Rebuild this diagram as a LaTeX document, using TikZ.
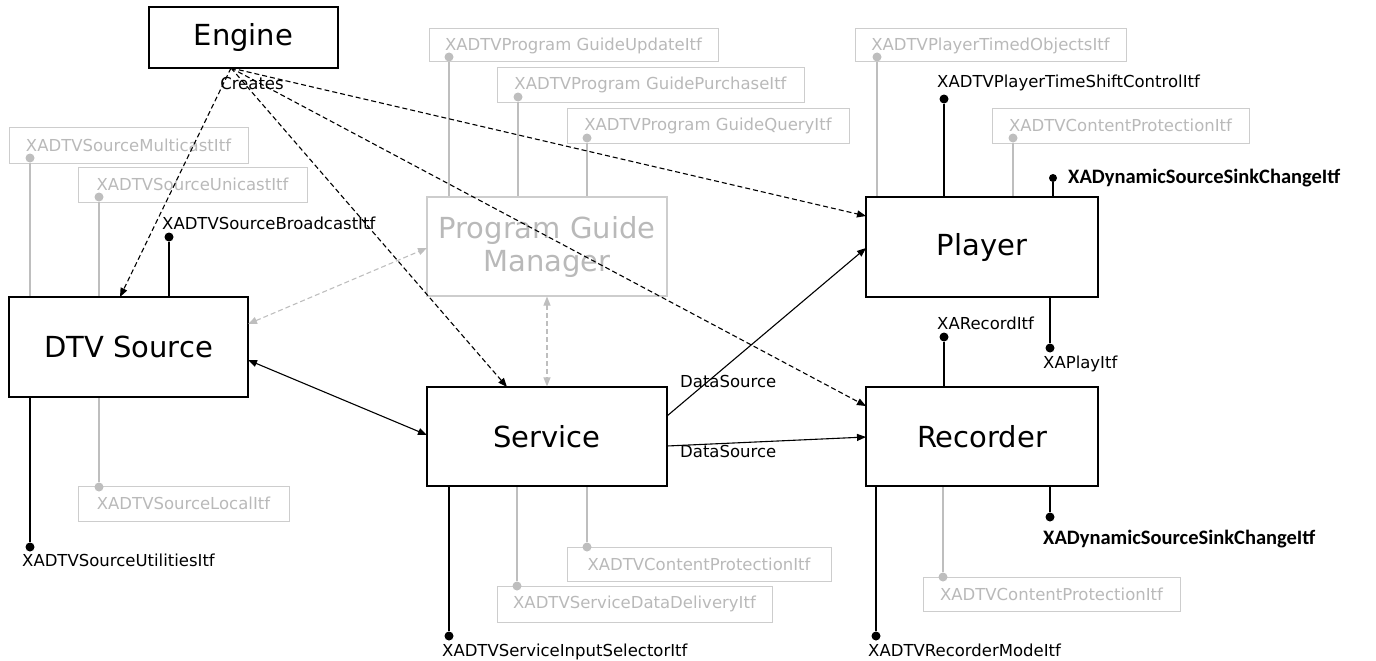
\documentclass[tikz,border=0pt]{standalone}
\usepackage{fontspec}
\setmainfont{DejaVu Sans}
\newfontfamily\calibri{Carlito}
\usetikzlibrary{arrows.meta,calc}
\definecolor{gtxt}{RGB}{185,185,185}
\definecolor{gline}{RGB}{190,190,190}
\definecolor{gbox}{RGB}{205,205,205}
\begin{document}
\begin{tikzpicture}[x=1pt,y=-1pt,
  mainbox/.style={draw=black, line width=1.2pt, inner sep=0pt, align=center, font=\fontsize{29}{33}\selectfont},
  graybox/.style={draw=gbox, line width=1.1pt, inner sep=0pt, align=center, text=gtxt, font=\fontsize{29}{33}\selectfont},
  ibox/.style={draw=gbox, line width=1pt, inner sep=0pt, text=gtxt, font=\fontsize{16.5}{18}\selectfont},
  lbl/.style={inner sep=0pt, anchor=base west, font=\fontsize{16.5}{18}\selectfont},
  blbl/.style={inner sep=0pt, anchor=base west, font=\calibri\bfseries\fontsize{20.5}{22}\selectfont},
  bdot/.style={circle, fill=black, inner sep=0pt, minimum size=9pt},
  gdot/.style={circle, fill=gline, inner sep=0pt, minimum size=9pt},
  bl/.style={draw=black, line width=1.1pt},
  gl/.style={draw=gline, line width=1.1pt},
  tip/.style={-{Triangle[length=9pt,width=7pt]}},
  dtip/.style={{Triangle[length=9pt,width=7pt]}-{Triangle[length=9pt,width=7pt]}},
  dsh/.style={dash pattern=on 5pt off 3pt, line width=1.1pt},
]
\useasboundingbox (0,0) rectangle (1376,661);

% main boxes
\node[mainbox, minimum width=189pt, minimum height=61pt] (eng) at (243.5,37.5) {Engine};
\node[mainbox, minimum width=239pt, minimum height=100pt] (dtv) at (128.5,347) {DTV Source};
\node[graybox, minimum width=240pt, minimum height=99pt] (pgm) at (547,246.5) {Program Guide\\Manager};
\node[mainbox, minimum width=240pt, minimum height=99pt] (svc) at (547,436.5) {Service};
\node[mainbox, minimum width=232pt, minimum height=100pt] (ply) at (982,247) {Player};
\node[mainbox, minimum width=232pt, minimum height=99pt] (rec) at (982,436.5) {Recorder};

% gray interface boxes
\node[ibox, minimum width=239pt, minimum height=36pt] (smc) at (128.5,145) {XADTVSourceMulticastItf};
\node[ibox, minimum width=229pt, minimum height=35pt] (suc) at (192.5,184.5) {XADTVSourceUnicastItf};
\node[ibox, minimum width=211pt, minimum height=35pt] (sloc) at (183.5,503.5) {XADTVSourceLocalItf};
\node[ibox, minimum width=289pt, minimum height=33pt] (pgu) at (573.5,45.5) {XADTVProgram GuideUpdateItf};
\node[ibox, minimum width=307pt, minimum height=34pt] (pgp) at (650.5,85) {XADTVProgram GuidePurchaseItf};
\node[ibox, minimum width=282pt, minimum height=35pt] (pgq) at (708,125.5) {XADTVProgram GuideQueryItf};
\node[ibox, minimum width=271pt, minimum height=33pt] (pto) at (990.5,45.5) {XADTVPlayerTimedObjectsItf};
\node[ibox, minimum width=257pt, minimum height=35pt] (pcp) at (1120.5,125.5) {XADTVContentProtectionItf};
\node[ibox, minimum width=264pt, minimum height=34pt] (scp) at (699,564) {XADTVContentProtectionItf};
\node[ibox, minimum width=275pt, minimum height=36pt] (sdd) at (634.5,604) {XADTVServiceDataDeliveryItf};
\node[ibox, minimum width=257pt, minimum height=34pt] (rcp) at (1051.5,594) {XADTVContentProtectionItf};

% gray lollipops
\node[gdot] (g1) at (30,158) {};
\node[gdot] (g2) at (99,197) {};
\node[gdot] (g3) at (99,487) {};
\node[gdot] (g4) at (449,57) {};
\node[gdot] (g5) at (518,97) {};
\node[gdot] (g6) at (587,138) {};
\node[gdot] (g7) at (877,57) {};
\node[gdot] (g8) at (1013,138) {};
\node[gdot] (g9) at (587,547) {};
\node[gdot] (g10) at (517,586) {};
\node[gdot] (g11) at (943,577) {};
\draw[gl] (g1) -- (g1 |- dtv.north);
\draw[gl] (g2) -- (g2 |- dtv.north);
\draw[gl] (g3) -- (g3 |- dtv.south);
\draw[gl] (g4) -- (g4 |- pgm.north);
\draw[gl] (g5) -- (g5 |- pgm.north);
\draw[gl] (g6) -- (g6 |- pgm.north);
\draw[gl] (g7) -- (g7 |- ply.north);
\draw[gl] (g8) -- (g8 |- ply.north);
\draw[gl] (g9) -- (g9 |- svc.south);
\draw[gl] (g10) -- (g10 |- svc.south);
\draw[gl] (g11) -- (g11 |- rec.south);

% black lollipops
\node[bdot] (b1) at (169,237) {};
\node[lbl] (t1) at (162,229) {XADTVSourceBroadcastItf};
\draw[bl] (b1) -- (b1 |- dtv.north);
\node[bdot] (b2) at (30,547) {};
\node[lbl] (t2) at (22,566) {XADTVSourceUtilitiesItf};
\draw[bl] (b2) -- (b2 |- dtv.south);
\node[bdot] (b3) at (449,636) {};
\node[lbl] (t3) at (442,656) {XADTVServiceInputSelectorItf};
\draw[bl] (b3) -- (b3 |- svc.south);
\node[bdot] (b4) at (944,99) {};
\node[lbl] (t4) at (937,88) {XADTVPlayerTimeShiftControlItf};
\draw[bl] (b4) -- (b4 |- ply.north);
\node[bdot, minimum size=8pt] (b5) at (1053,178) {};
\node[blbl] (t5) at (1068,183) {XADynamicSourceSinkChangeItf};
\draw[bl] (b5) -- (b5 |- ply.north);
\node[bdot] (b6) at (1050,348) {};
\node[lbl] (t6) at (1043,368) {XAPlayItf};
\draw[bl] (b6) -- (b6 |- ply.south);
\node[bdot] (b7) at (944,337) {};
\node[lbl] (t7) at (937,329) {XARecordItf};
\draw[bl] (b7) -- (b7 |- rec.north);
\node[bdot] (b8) at (1050,517) {};
\node[blbl] (t8) at (1043,544) {XADynamicSourceSinkChangeItf};
\draw[bl] (b8) -- (b8 |- rec.south);
\node[bdot] (b9) at (876,636) {};
\node[lbl] (t9) at (868,656) {XADTVRecorderModeItf};
\draw[bl] (b9) -- (b9 |- rec.south);

% Engine creates
\coordinate (eo) at (231,68);
\coordinate (edtv) at (120,297);
\coordinate (esvc) at (507,387);
\coordinate (eply) at (866,216);
\coordinate (erec) at (866,406);
\draw[dsh, tip] (eo) -- (edtv);
\draw[dsh, tip] (eo) -- (esvc);
\draw[dsh, tip] (eo) -- (eply);
\draw[dsh, tip] (eo) -- (erec);
\node[lbl, anchor=base] (cr) at (252,89) {Creates};

% DTV <-> Service
\coordinate (ds1) at (248,360);
\coordinate (ds2) at (427,435);
\draw[line width=1.1pt, dtip] (ds1) -- (ds2);
% DTV <-> PGM gray
\coordinate (dp1) at (248,324);
\coordinate (dp2) at (427,248);
\draw[gl, dsh, draw=gline, dtip, gline] (dp1) -- (dp2);
% PGM <-> Service gray
\draw[gl, dsh, dtip, gline] (pgm.south) -- (svc.north);

% DataSource
\coordinate (sp1) at (667,416);
\coordinate (sp2) at (866,248);
\draw[line width=1.1pt, tip] (sp1) -- (sp2);
\node[lbl] (dl1) at (680,387) {DataSource};
\coordinate (sr1) at (667,446);
\coordinate (sr2) at (866,437);
\draw[line width=1.1pt, tip] (sr1) -- (sr2);
\node[lbl] (dl2) at (680,457) {DataSource};
\end{tikzpicture}
\end{document}
